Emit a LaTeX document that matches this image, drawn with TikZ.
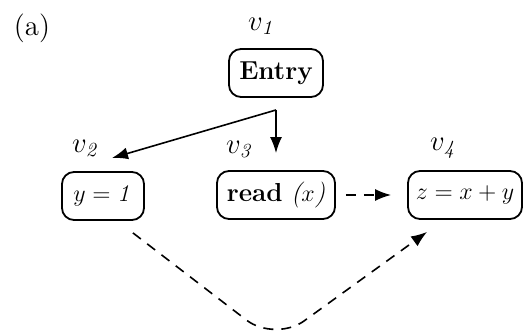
\documentclass[tikz,border=0pt]{standalone}
\usetikzlibrary{arrows.meta}

\tikzset{
    stmt/.style={draw, rounded corners=6pt, line width=0.9pt, fill=white,
        minimum height=24pt, inner xsep=2pt, font=\fontsize{13}{15}\selectfont},
    vlab/.style={font=\Large},
    flow/.style={-{Latex[length=8pt,width=6pt]}, line width=0.8pt},
    dep/.style={flow, dash pattern=on 5pt off 4pt},
}

\begin{document}
\begin{tikzpicture}[x=0.5pt, y=-0.5pt]
    \useasboundingbox (0,0) rectangle (527,331);

    \node[font=\Large] (tag) at (32,28) {(a)};

    % statements
    \node[stmt, minimum width=47pt] (entry) at (276,73) {\textbf{Entry}};
    \node[stmt, minimum width=41pt] (s2) at (103,196) {$y = \mathit{1}$};
    \node[stmt, minimum width=59pt] (s3) at (276,195) {\textbf{read} {\itshape(}$x${\itshape)}};
    \node[stmt, minimum width=57pt] (s4) at (465,195) {$z = x + y$};

    % vertex names
    \node[vlab] (v1) at (262,26) {$v_{\mathit{1}}$};
    \node[vlab] (v2) at (86,148) {$v_{\mathit{2}}$};
    \node[vlab] (v3) at (240,149) {$v_{\mathit{3}}$};
    \node[vlab] (v4) at (444,148) {$v_{\mathit{4}}$};

    % control flow out of entry
    \coordinate (fork) at (276,110);
    \coordinate (in2) at (112,158);
    \draw[flow] (fork) -- (in2);
    \draw[flow, shorten >=8.5pt] (fork) -- (s3.north);

    % data dependences
    \draw[dep, shorten <=5pt, shorten >=8pt] (s3) -- (s4);
    \coordinate (low) at (275,342);
    \draw[dep, rounded corners=18pt] ([xshift=-6pt,yshift=-6pt]s2.south east) -- (low) -- ([xshift=10pt,yshift=-6pt]s4.south west);
\end{tikzpicture}
\end{document}
